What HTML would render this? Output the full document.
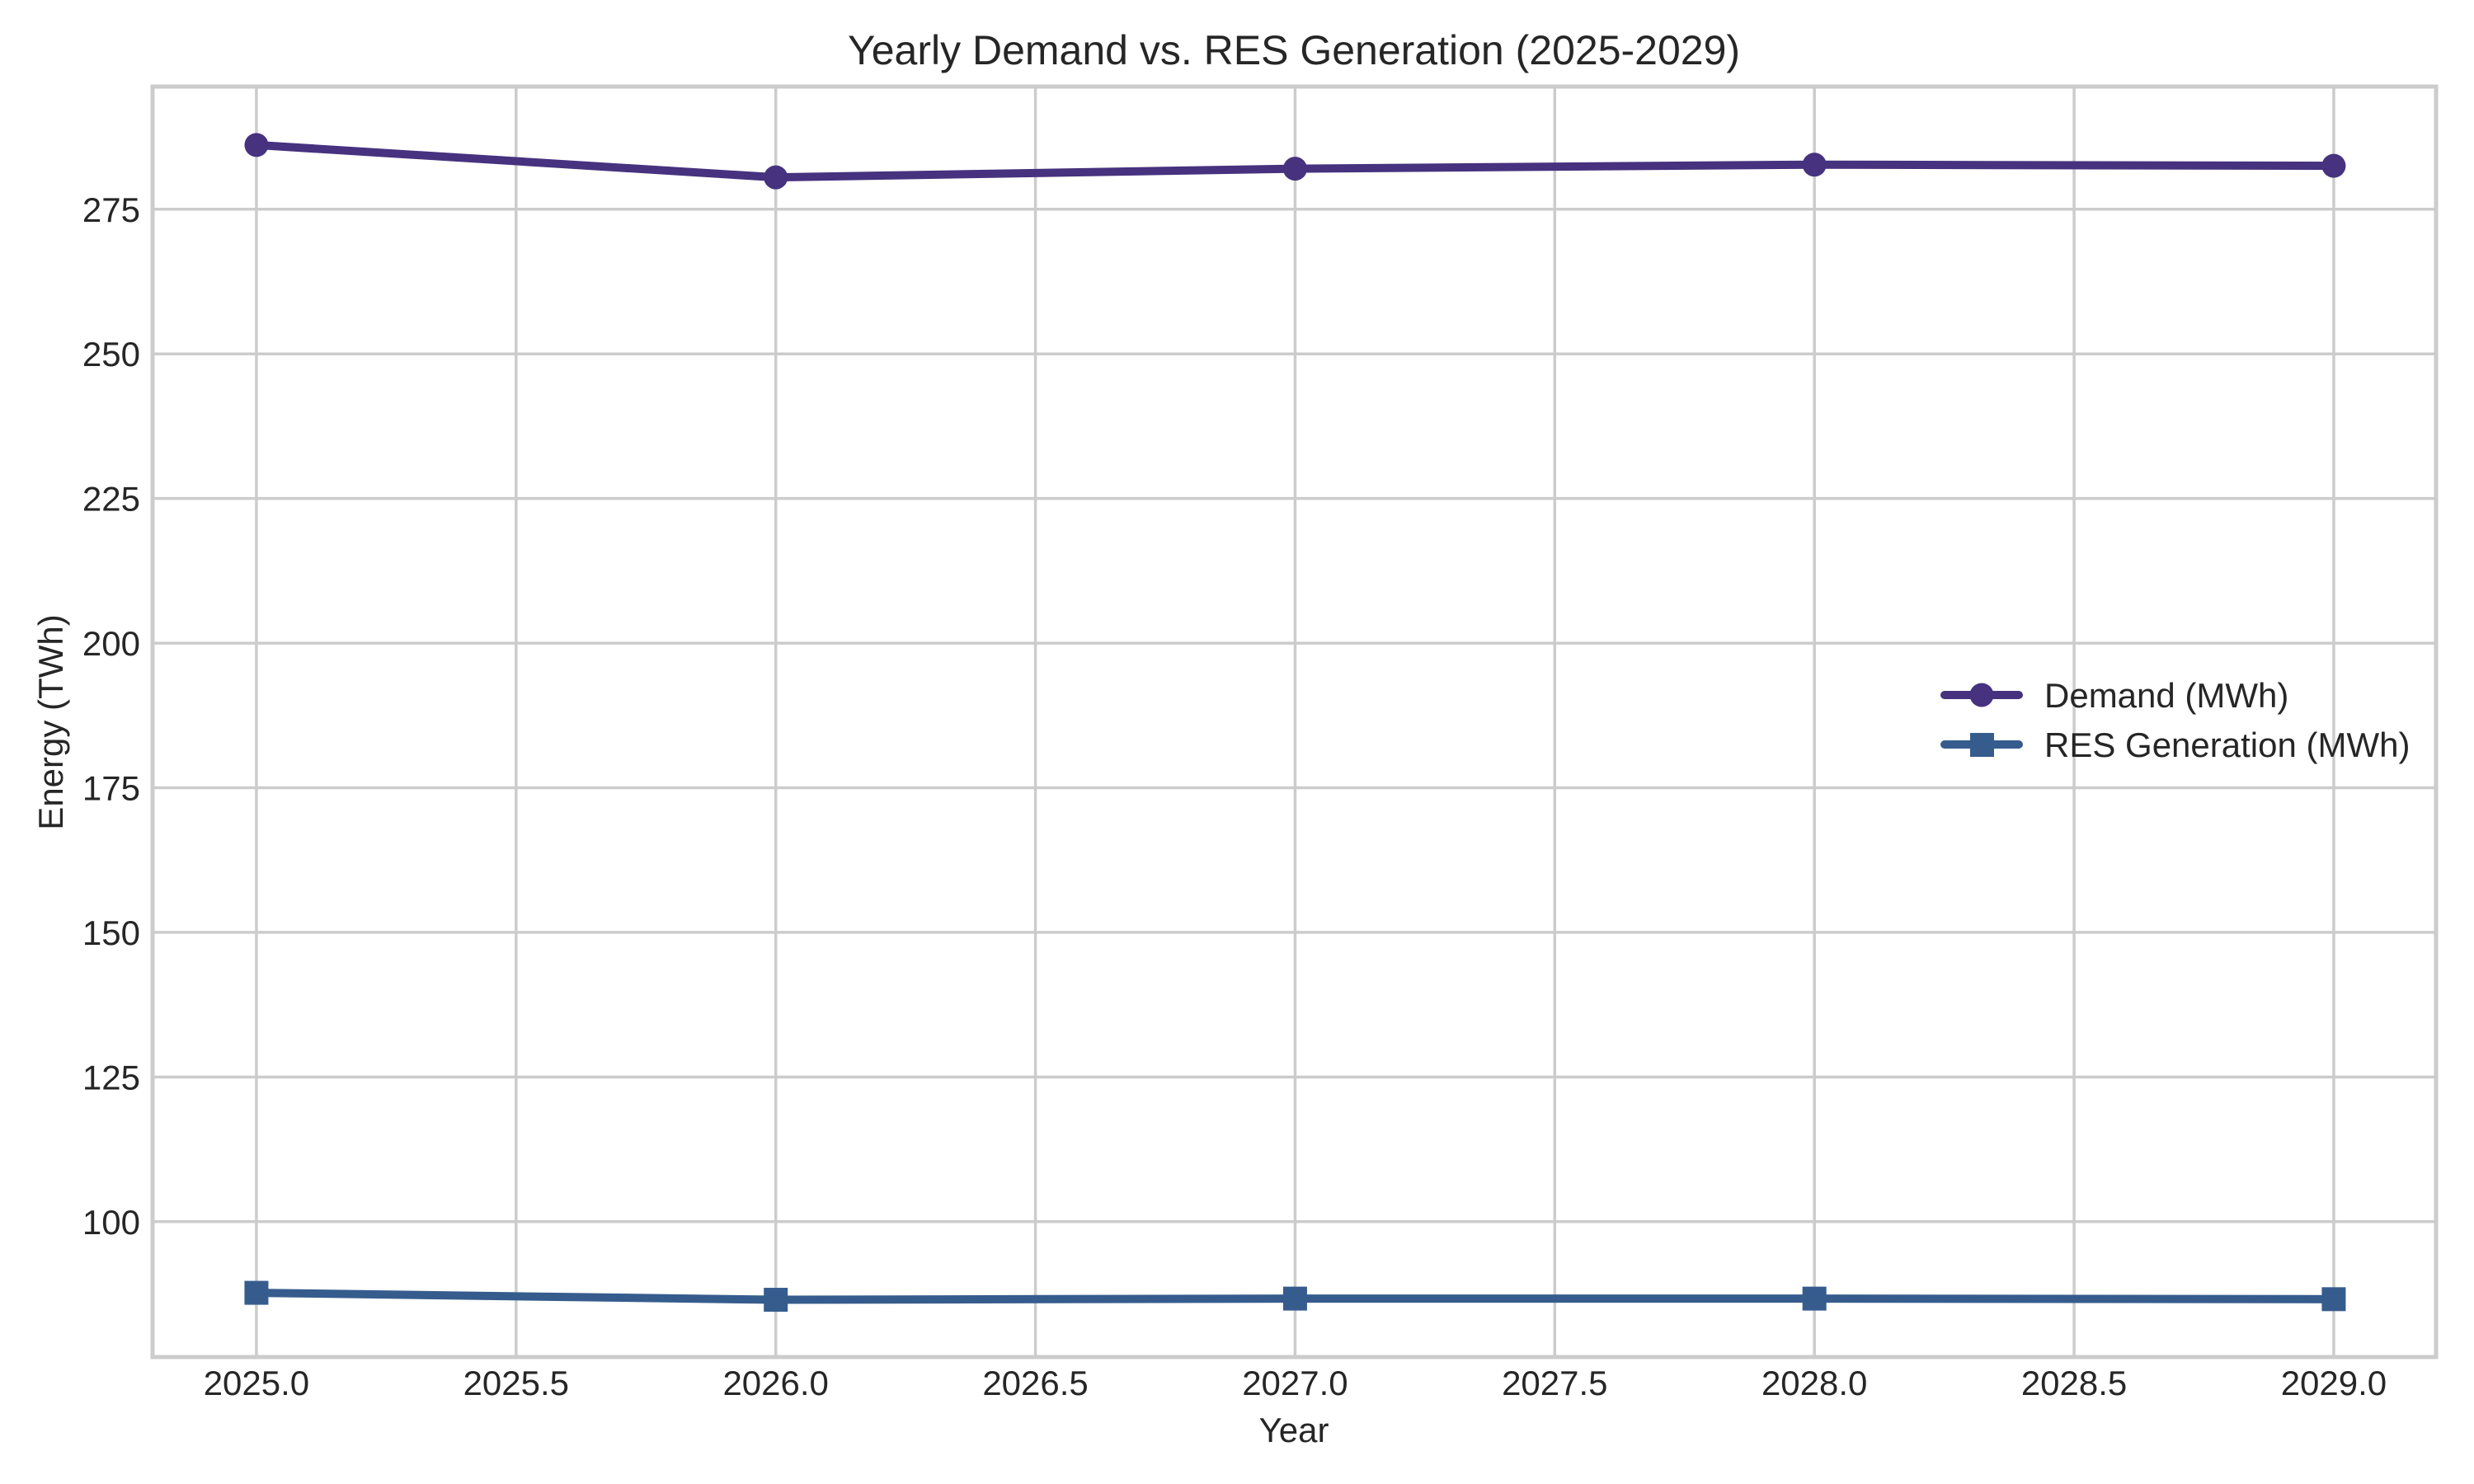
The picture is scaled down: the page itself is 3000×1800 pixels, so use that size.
<!DOCTYPE html>
<html><head><meta charset="utf-8"><style>
html,body{margin:0;padding:0;background:#fff;}
svg{display:block;font-family:"Liberation Sans",Arial,sans-serif;}
</style></head><body>
<svg id="chart" width="3000" height="1800" viewBox="0 0 3000 1800" xmlns="http://www.w3.org/2000/svg">
<rect x="0" y="0" width="3000" height="1800" fill="#fff"/>
<g id="grid"></g>
<g id="ticks"></g>
<rect x="185" y="105" width="2769" height="1541" fill="none" stroke="#cccccc" stroke-width="5"/>
<g id="series"></g>
<text x="1569" y="78" font-size="50" text-anchor="middle" fill="#262626">Yearly Demand vs. RES Generation (2025-2029)</text>
<text x="1569" y="1749" font-size="42" text-anchor="middle" fill="#262626">Year</text>
<text x="0" y="0" font-size="42" text-anchor="middle" fill="#262626" transform="translate(76,876) rotate(-90)">Energy (TWh)</text>
<g id="legend">
  <g>
    <line x1="2358" y1="843" x2="2448" y2="843" stroke="#46327e" stroke-width="10" stroke-linecap="round"/>
    <circle cx="2403" cy="843" r="14.5" fill="#46327e"/>
    <text x="2479" y="858" font-size="42" fill="#262626">Demand (MWh)</text>
  </g>
  <g>
    <line x1="2358" y1="903" x2="2448" y2="903" stroke="#365c8d" stroke-width="10" stroke-linecap="round"/>
    <rect x="2389" y="889" width="29" height="29" fill="#365c8d"/>
    <text x="2479" y="918" font-size="42" fill="#262626">RES Generation (MWh)</text>
  </g>
</g>
</svg>
<script>
const years = [2025, 2026, 2027, 2028, 2029];
const demand = [286.1, 280.5, 282.0, 282.7, 282.5];
const resGen = [87.7, 86.5, 86.7, 86.7, 86.6];
const xTicks = [2025.0, 2025.5, 2026.0, 2026.5, 2027.0, 2027.5, 2028.0, 2028.5, 2029.0];
const yTicks = [100, 125, 150, 175, 200, 225, 250, 275];

const NS = "http://www.w3.org/2000/svg";
const X0 = 185, X1 = 2954, Y0 = 105, Y1 = 1646;
const xMin = 2024.8, xMax = 2029.197, yMin = 76.6, yMax = 296.2;
function xs(v){ return X0 + (v - xMin) / (xMax - xMin) * (X1 - X0); }
function ys(v){ return Y1 - (v - yMin) / (yMax - yMin) * (Y1 - Y0); }
function mk(tag, attrs, parent){
  const e = document.createElementNS(NS, tag);
  for (const k in attrs) e.setAttribute(k, attrs[k]);
  parent.appendChild(e);
  return e;
}
const grid = document.getElementById('grid');
const ticks = document.getElementById('ticks');
xTicks.forEach(t => {
  const l = mk('line', {x1: xs(t), x2: xs(t), y1: Y0, y2: Y1, stroke: '#cccccc', 'stroke-width': 3.5}, grid);
  
  
  const tx = mk('text', {x: xs(t), y: 1692, 'font-size': 42, 'text-anchor': 'middle', fill: '#262626'}, ticks);
  tx.textContent = t.toFixed(1);
  
  
});
yTicks.forEach(t => {
  const l = mk('line', {x1: X0, x2: X1, y1: ys(t), y2: ys(t), stroke: '#cccccc', 'stroke-width': 3.5}, grid);
  
  
  const tx = mk('text', {x: 170, y: ys(t) + 15, 'font-size': 42, 'text-anchor': 'end', fill: '#262626'}, ticks);
  tx.textContent = String(t);
  
  
});
const series = document.getElementById('series');
function drawSeries(vals, color, shape, name){
  const g = mk('g', {}, series);
  
  
  const pts = vals.map((v, i) => xs(years[i]) + ',' + ys(v)).join(' ');
  const pl = mk('polyline', {points: pts, fill: 'none', stroke: color, 'stroke-width': 10, 'stroke-linejoin': 'round', 'stroke-linecap': 'round'}, g);
  
  
  vals.forEach((v, i) => {
    let m;
    if (shape === 'circle') m = mk('circle', {cx: xs(years[i]), cy: ys(v), r: 14.5, fill: color}, g);
    else m = mk('rect', {x: xs(years[i]) - 14.5, y: ys(v) - 14.5, width: 29, height: 29, fill: color}, g);
    
    
  });
}
drawSeries(demand, '#46327e', 'circle', 'demand');
drawSeries(resGen, '#365c8d', 'square', 'res-generation');
</script>
</body></html>
